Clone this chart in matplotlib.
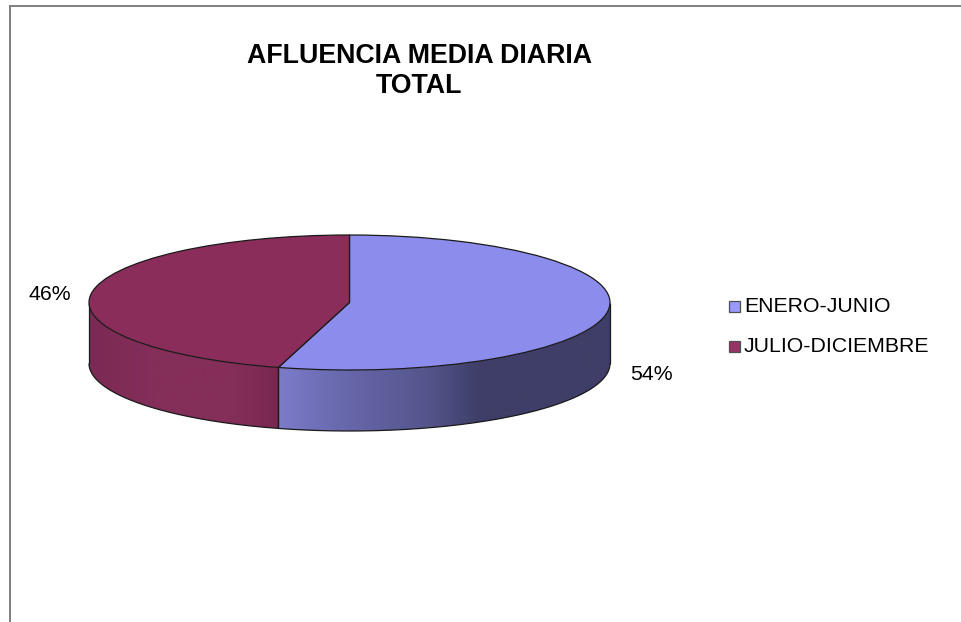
import numpy as np
import matplotlib
matplotlib.use('Agg')
import matplotlib.pyplot as plt
from matplotlib.patches import Rectangle, Polygon
from matplotlib.colors import to_rgb

plt.rcParams['font.family'] = ['Liberation Sans', 'DejaVu Sans']

categories = ['ENERO-JUNIO', 'JULIO-DICIEMBRE']
shares = [54.4, 45.6]
top_colors = ['#8c8cec', '#8a2d5b']
legend_colors = ['#9999ff', '#993366']
title_lines = 'AFLUENCIA MEDIA DIARIA\nTOTAL'

# wall shading, left to right across the pie
blue_x = [-0.28, 0.0, 0.3, 0.5, 1.0]
blue_c = ['#7c7cca', '#6666aa', '#55558c', '#3e3e68', '#3e3e68']
purple_x = [-1.0, -0.75, -0.45, -0.27]
purple_c = ['#7b2a54', '#842e5a', '#842e5a', '#7a2750']

W, H = 961, 622
cx, cy, rx, ry = 349.5, 302.5, 260.5, 67.5
depth = 61 / ry
edge = '#1a1a1a'

fig = plt.figure(figsize=(W / 100, H / 100), dpi=100)
ax = fig.add_axes([0, 0, 1, 1])
ax.pie(shares, startangle=90, counterclock=False, colors=top_colors, radius=1,
       wedgeprops=dict(edgecolor=edge, linewidth=0.9, zorder=5))

# side wall of the pie, front half only
cut = shares[0] / sum(shares) * 2 * np.pi
for start, stop, xs, cs in [(np.pi / 2, cut, blue_x, blue_c), (cut, 3 * np.pi / 2, purple_x, purple_c)]:
    th = np.linspace(start, stop, 200)
    x = np.sin(th)
    y = np.cos(th)
    rgb = np.array([to_rgb(c) for c in cs])
    gx = np.linspace(x.min(), x.max(), 300)
    grad = np.stack([np.interp(gx, xs, rgb[:, i]) for i in range(3)], axis=-1)[np.newaxis, :, :]
    im = ax.imshow(grad, extent=(x.min(), x.max(), (y - depth).min(), y.max()), aspect='auto',
                   interpolation='bilinear', zorder=2)
    wall = Polygon(np.r_[np.c_[x, y], np.c_[x, y - depth][::-1]], closed=True, transform=ax.transData,
                   facecolor='none', edgecolor='none')
    ax.add_patch(wall)
    im.set_clip_path(wall)
    ax.plot(x, y - depth, color=edge, lw=0.9, zorder=3, solid_capstyle='butt')
    ax.plot([x[0], x[0]], [y[0], y[0] - depth], color=edge, lw=0.9, zorder=3, solid_capstyle='butt')
    ax.plot([x[-1], x[-1]], [y[-1], y[-1] - depth], color=edge, lw=0.9, zorder=3, solid_capstyle='butt')

ax.set_aspect('auto')
ax.set_xlim(-cx / rx, (W - cx) / rx)
ax.set_ylim((cy - H) / ry, cy / ry)
ax.axis('off')

# chart area border, only top and left show in the crop
fig.add_artist(plt.Line2D([9.5 / W, 9.5 / W], [0, 1 - 5.5 / H], color='#808080', lw=1.4))
fig.add_artist(plt.Line2D([9.5 / W, 1], [1 - 5.5 / H, 1 - 5.5 / H], color='#808080', lw=1.4))

fig.text(419.5 / W, 1 - 71 / H, title_lines, ha='center', va='center', fontsize=19.3,
         fontweight='bold', linespacing=1.18, color='black')

fig.text(49.5 / W, 1 - 295 / H, '%.0f%%' % shares[1], ha='center', va='center', fontsize=15.3)
fig.text(651.5 / W, 1 - 374 / H, '%.0f%%' % shares[0], ha='center', va='center', fontsize=15.3)

leg_y = [306.5, 346.5]
for name, col, yy in zip(categories, legend_colors, leg_y):
    fig.add_artist(Rectangle((728.5 / W, 1 - (yy + 5.5) / H), 11 / W, 11 / H, transform=fig.transFigure,
                             facecolor=col, edgecolor='#505050', lw=0.9))
    fig.text(744 / W, 1 - yy / H, name, ha='left', va='center', fontsize=15.3)

fig.savefig('out.png', dpi=100)
